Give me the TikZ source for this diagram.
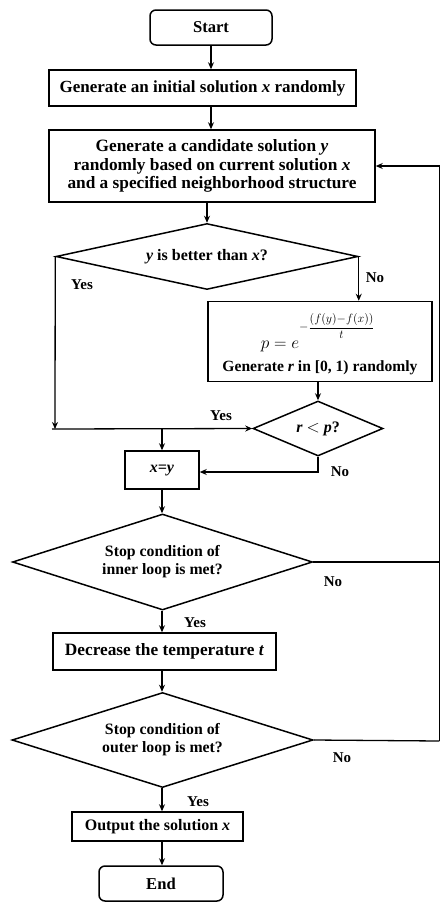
\documentclass[tikz,border=0pt]{standalone}
\usepackage{fontspec}
\setmainfont{Liberation Serif}
\usetikzlibrary{arrows.meta,shapes.geometric}
\newcommand{\fsz}[1]{\fontsize{#1}{18.3}\selectfont}
\tikzset{
  x=1pt, y=-1pt,
  base/.style={draw=black, line width=1.5pt, inner sep=0pt, align=center,
    font=\bfseries},
  term/.style={base, rounded corners=6pt},
  procbox/.style={base},
  decide/.style={base, diamond},
  plain/.style={inner sep=0pt, anchor=base},
  arr/.style={line width=1.3pt, -{Stealth[length=7pt,width=6pt]}},
  conn/.style={line width=1.3pt},
  lbl/.style={font=\fontsize{15}{16}\selectfont\bfseries, inner sep=0pt}
}
\begin{document}
\begin{tikzpicture}
\useasboundingbox (0,0) rectangle (440,902);
\node[term, minimum width=122pt, minimum height=35pt, font=\fsz{16.6}\bfseries] (start) at (211,27.5) {Start};
\node[procbox, minimum width=307pt, minimum height=36pt, font=\fsz{17}\bfseries] (init) at (202.5,88) {Generate an initial solution \textit{x} randomly};
\node[procbox, minimum width=326pt, minimum height=72pt, font=\fsz{17.3}\bfseries] (cand) at (212,166) {Generate a candidate solution \textit{y}\\randomly based on current solution \textit{x}\\and a specified neighborhood structure};
\node[decide, minimum width=302pt, minimum height=66pt, aspect=4.6, font=\fsz{16}\bfseries] (d1) at (207,256.5) {\textit{y} is better than \textit{x}?};
\node[procbox, minimum width=224pt, minimum height=80pt] (calc) at (320,341.5) {};
\node[plain, font=\fontsize{18.5}{18}\selectfont] (frm) at (318,348) {$p=e^{\raisebox{11pt}{\fontsize{11.5}{11}\selectfont$\displaystyle-\frac{(f(y){-}f(x))}{t}$}}$};
\node[plain, font=\fsz{15.6}\bfseries] (gen) at (320,371) {Generate \textit{r} in [0, 1) randomly};
\node[decide, minimum width=130pt, minimum height=55pt, aspect=2.4, font=\fsz{16}\bfseries] (d2) at (318,428.5) {\textit{r} $<$ \textit{p}?};
\node[procbox, minimum width=74pt, minimum height=38pt, font=\fsz{16}\bfseries] (xy) at (162,470) {\textit{x=y}};
\node[decide, minimum width=300pt, minimum height=96pt, aspect=3.1, font=\fontsize{15.8}{18}\selectfont\bfseries] (d3) at (162.5,562) {Stop condition of\\inner loop is met?};
\node[procbox, minimum width=223pt, minimum height=37pt, font=\fsz{17.3}\bfseries] (dec) at (164.5,651.5) {Decrease the temperature \textit{t}};
\node[decide, minimum width=301pt, minimum height=95pt, aspect=3.1, font=\fontsize{15.8}{18}\selectfont\bfseries] (d4) at (162.5,740) {Stop condition of\\outer loop is met?};
\node[procbox, minimum width=171pt, minimum height=29pt, font=\fsz{16}\bfseries] (outp) at (157.5,826.5) {Output the solution \textit{x}};
\node[term, minimum width=124pt, minimum height=35pt, font=\fsz{16.6}\bfseries] (endn) at (161,883.5) {End};

\coordinate (col) at (162,0);
\coordinate (j) at (55,429);
\coordinate (nx) at (318,472);
\coordinate (r3) at (439.3,562);
\coordinate (r4) at (439.3,741);
\coordinate (fb) at (439.3,166);

\draw[arr] (start.south) -- (start.south |- init.north);
\draw[arr] (init.south -| start) -- (cand.north -| start);
\draw[arr] (cand.south -| d1.north) -- (d1.north);
\draw[arr] (d1.east) -- (d1.east |- calc.north);
\draw[arr] (calc.south -| d2.north) -- (d2.north);
\draw[arr] (d1.west) -- (j);
\draw[arr] ([xshift=-3pt]j) -- (d2.west);
\draw[arr] (col |- j) -- (col |- xy.north);
\draw[arr] (d2.south) -- (nx) -- (nx -| xy.east);
\draw[arr] (col |- xy.south) -- (col |- d3.north);
\draw[conn] (d3.east) -- (r3);
\draw[arr] (col |- d3.south) -- (col |- dec.north);
\draw[arr] (col |- dec.south) -- (col |- d4.north);
\draw[conn] (d4.east) -- (r4);
\draw[arr] (col |- d4.south) -- (col |- outp.north);
\draw[arr] (col |- outp.south) -- (col |- endn.north);
\draw[arr] (r4) -- (fb) -- (cand.east);

\node[lbl] (l1) at (82,285) {Yes};
\node[lbl] (l2) at (375,278) {No};
\node[lbl] (l3) at (221,416) {Yes};
\node[lbl] (l4) at (340,472) {No};
\node[lbl] (l5) at (333,582) {No};
\node[lbl] (l6) at (195,623) {Yes};
\node[lbl] (l7) at (342,758) {No};
\node[lbl] (l8) at (198,802) {Yes};
\end{tikzpicture}
\end{document}
